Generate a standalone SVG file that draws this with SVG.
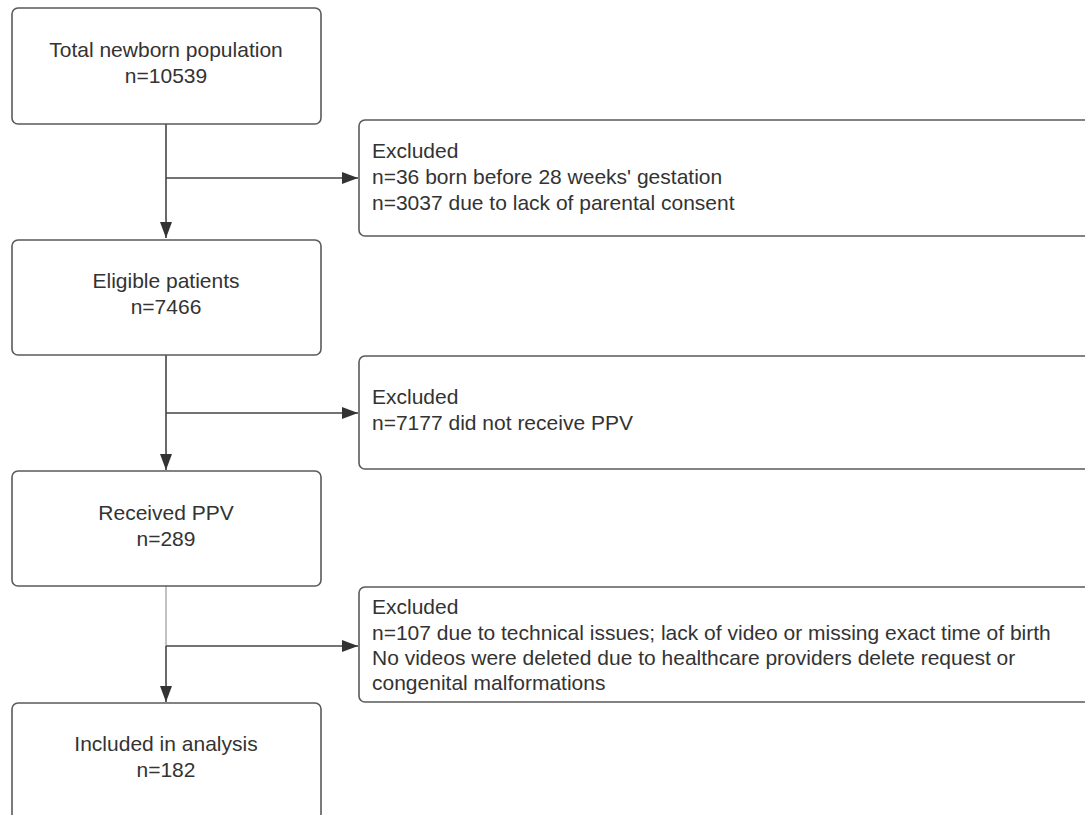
<svg xmlns="http://www.w3.org/2000/svg" width="1085" height="815" viewBox="0 0 1085 815">
<style>
.box{fill:#fff;stroke:#5a5a5a;stroke-width:1.6}
.t{font-family:"Liberation Sans",Arial,sans-serif;font-size:21px;fill:#333}
.c{text-anchor:middle}
.ln{fill:none;stroke:#444;stroke-width:1.6}
</style>
<defs>
<marker id="ahv" markerWidth="16" markerHeight="12" refX="16" refY="6" orient="auto" markerUnits="userSpaceOnUse" viewBox="0 0 16 12">
<path d="M0,0 L16,6 L0,12 Z" fill="#333"/>
</marker>
</defs>
<rect width="1085" height="815" fill="#fff"/>
<g id="connectors">
<path class="ln" d="M166,124 V238" marker-end="url(#ahv)"/>
<path class="ln" d="M166,178 H358" marker-end="url(#ahv)"/>
<path class="ln" d="M166,355 V470" marker-end="url(#ahv)"/>
<path class="ln" d="M166,413 H358" marker-end="url(#ahv)"/>
<path class="ln" d="M166,586 V646" style="stroke:#999;stroke-width:1.2"/>
<path class="ln" d="M166,646 V702" marker-end="url(#ahv)"/>
<path class="ln" d="M166,646 H358" marker-end="url(#ahv)"/>
</g>
<g id="n1"><rect class="box" x="12" y="8" width="309" height="116" rx="6"/>
<text class="t c" x="166" y="57">Total newborn population</text><text class="t c" x="166" y="83">n=10539</text></g>
<g id="x1"><rect class="box" x="359" y="120" width="740" height="116" rx="6"/>
<text class="t" x="372" y="158">Excluded</text><text class="t" x="372" y="184">n=36 born before 28 weeks' gestation</text><text class="t" x="372" y="210">n=3037 due to lack of parental consent</text></g>
<g id="n2"><rect class="box" x="12" y="240" width="309" height="115" rx="6"/>
<text class="t c" x="166" y="288">Eligible patients</text><text class="t c" x="166" y="314">n=7466</text></g>
<g id="x2"><rect class="box" x="359" y="356" width="740" height="113" rx="6"/>
<text class="t" x="372" y="404">Excluded</text><text class="t" x="372" y="430">n=7177 did not receive PPV</text></g>
<g id="n3"><rect class="box" x="12" y="471" width="309" height="115" rx="6"/>
<text class="t c" x="166" y="520">Received PPV</text><text class="t c" x="166" y="546">n=289</text></g>
<g id="x3"><rect class="box" x="359" y="587" width="740" height="115" rx="6"/>
<text class="t" x="372" y="614">Excluded</text><text class="t" x="372" y="640">n=107 due to technical issues; lack of video or missing exact time of birth</text><text class="t" x="372" y="665">No videos were deleted due to healthcare providers delete request or</text><text class="t" x="372" y="690">congenital malformations</text></g>
<g id="n4"><rect class="box" x="12" y="703" width="309" height="130" rx="6"/>
<text class="t c" x="166" y="751">Included in analysis</text><text class="t c" x="166" y="777">n=182</text></g>
</svg>
